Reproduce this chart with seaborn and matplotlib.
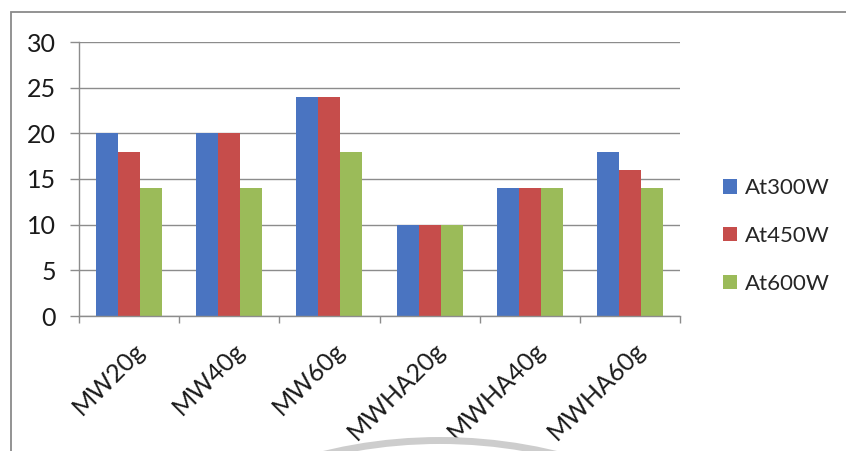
import matplotlib
matplotlib.use("Agg")
import numpy as np
import pandas as pd
import seaborn as sns
import matplotlib.pyplot as plt
import matplotlib.transforms as mtransforms
from matplotlib.patches import Rectangle, Arc

# Data
samples = ["MW20g", "MW40g", "MW60g", "MWHA20g", "MWHA40g", "MWHA60g"]
power_levels = ["At300W", "At450W", "At600W"]
at300w = [20, 20, 24, 10, 14, 18]
at450w = [18, 20, 24, 10, 14, 16]
at600w = [14, 14, 18, 10, 14, 14]
y_ticks = [0, 5, 10, 15, 20, 25, 30]

colors = ["#4a74c1", "#c64d4b", "#9bbb59"]
grid_gray = "#8c8c8c"

sns.set_theme(style="white")
plt.rcParams["font.family"] = ["Lato", "DejaVu Sans"]

df = pd.DataFrame({
    "sample": samples * 3,
    "power": np.repeat(power_levels, len(samples)),
    "value": at300w + at450w + at600w,
})

W, H = 846, 451
fig = plt.figure(figsize=(W / 100, H / 100), dpi=100)
fig.patch.set_facecolor("white")
ax = fig.add_axes([79 / W, 135 / H, 601 / W, 274 / H])

sns.barplot(data=df, x="sample", y="value", hue="power",
            order=samples, hue_order=power_levels, palette=colors,
            width=0.66, gap=0, saturation=1, linewidth=0,
            edgecolor="none", ax=ax, legend=True)

ax.set_xlim(-0.5, len(samples) - 0.5)
ax.set_ylim(0, 30)
ax.set_yticks(y_ticks)
ax.set_xlabel("")
ax.set_ylabel("")

ax.grid(axis="y", color=grid_gray, linewidth=1.0)
ax.grid(axis="x", visible=False)
ax.set_axisbelow(True)
for side in ("top", "right"):
    ax.spines[side].set_visible(False)
for side in ("left", "bottom"):
    ax.spines[side].set_color(grid_gray)
    ax.spines[side].set_linewidth(1.0)

# y axis: outward ticks that continue the gridlines
ax.tick_params(axis="y", which="major", direction="out", length=6.5,
               width=1.0, color=grid_gray, pad=10, labelsize=18,
               labelcolor="#1a1a1a", left=True)

# x axis: tick marks between categories, labels rotated at the centers
ax.set_xticks(np.arange(-0.5, len(samples), 1.0), minor=True)
ax.tick_params(axis="x", which="minor", direction="out", length=5,
               width=1.0, color=grid_gray, bottom=True)
ax.tick_params(axis="x", which="major", length=0, pad=22,
               labelsize=18, labelcolor="#1a1a1a")
offset = mtransforms.ScaledTranslation(12 / 100, 0, fig.dpi_scale_trans)
for lab in ax.get_xticklabels():
    lab.set_rotation(45)
    lab.set_ha("right")
    lab.set_va("center")
    lab.set_rotation_mode("anchor")
    lab.set_transform(lab.get_transform() + offset)

# legend to the right of the plot
handles, labels = ax.get_legend_handles_labels()
ax.legend(handles, labels, loc="center left",
          bbox_to_anchor=(723 / W, (H - 236) / H),
          bbox_transform=fig.transFigure, frameon=False,
          fontsize=16, handlelength=0.62, handleheight=0.62,
          handletextpad=0.36, labelspacing=1.25, borderpad=0,
          borderaxespad=0)

# outer chart border
fig.add_artist(Rectangle((11 / W, -0.2), 1.2, (H - 12) / H + 0.2,
                         transform=fig.transFigure, fill=False,
                         edgecolor="#8a8a8a", linewidth=1.3, clip_on=False))

# light gray arc along the bottom edge
fig.add_artist(Arc((4.40, -4.82), 9.85, 9.85, theta1=70, theta2=110,
                   transform=fig.dpi_scale_trans, color="#cdcdcd",
                   linewidth=5.0))

fig.savefig("out.png", dpi=100, facecolor="white")
